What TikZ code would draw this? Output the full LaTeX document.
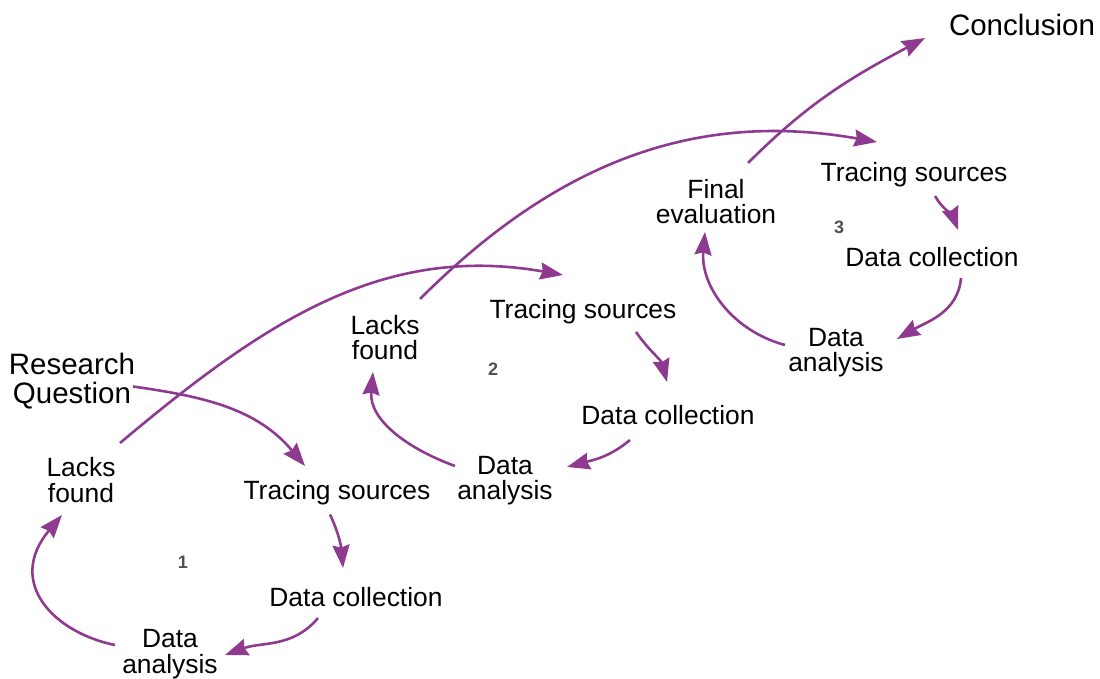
\documentclass[tikz,border=0pt]{standalone}
\usepackage{fontspec}
\setmainfont{Liberation Sans}
\usepackage{xcolor}
\usepackage{tikz}
\usetikzlibrary{arrows.meta}
\definecolor{cyclepurple}{RGB}{142, 58, 145}
\definecolor{numgray}{RGB}{80, 80, 80}

\begin{document}
\begin{tikzpicture}[x=1pt, y=1pt,
  lbl/.style={align=center, inner sep=1pt, font=\fontsize{26.4}{25.5}\selectfont},
  biglbl/.style={align=center, inner sep=1pt, font=\fontsize{29.5}{29}\selectfont},
  num/.style={inner sep=1pt, text=numgray, font=\fontsize{18}{18}\selectfont\bfseries},
  arr/.style={cyclepurple, line width=2.6pt, -{Stealth[length=23pt, width=17pt, inset=2.5pt]}}]
\useasboundingbox (0,0) rectangle (1100,678);

% start and end
\node[biglbl] (rq) at (72,296.5) {Research\\Question};
\node[biglbl] (concl) at (1022,653) {Conclusion};

% cycle 1
\node[lbl] (lf1) at (81,198) {Lacks\\found};
\node[lbl] (ts1) at (337,185) {Tracing sources};
\node[num] (n1) at (183,116) {1};
\node[lbl] (dc1) at (356,80.5) {Data collection};
\node[lbl] (da1) at (170,24) {Data\\analysis};

% cycle 2
\node[lbl] (lf2) at (385,340.5) {Lacks\\found};
\node[lbl] (ts2) at (583,366.5) {Tracing sources};
\node[num] (n2) at (493,309) {2};
\node[lbl] (dc2) at (668,262.5) {Data collection};
\node[lbl] (da2) at (505,197.5) {Data\\analysis};

% cycle 3
\node[lbl] (fe) at (716,476.5) {Final\\evaluation};
\node[lbl] (ts3) at (914,503.5) {Tracing sources};
\node[num] (n3) at (839,451) {3};
\node[lbl] (dc3) at (932,420.5) {Data collection};
\node[lbl] (da3) at (836,325.5) {Data\\analysis};

% arrows of cycle 1
\draw[arr] ([shift={(61,-5)}]rq.center) to[out=-8, in=130] ([shift={(-32,27)}]ts1.center);
\draw[arr] ([shift={(-7,-21.5)}]ts1.center) to[out=-65, in=95] ([shift={(-13,29.5)}]dc1.center);
\draw[arr] ([shift={(-38,-20.5)}]dc1.center) to[out=-130, in=20] ([shift={(55,-1)}]da1.center);
\draw[arr] ([shift={(-55,9)}]da1.center) .. controls +(-60,12) and +(-57,-68) .. ([shift={(-19,-35)}]lf1.center);

% arrows of cycle 2
\draw[arr] ([shift={(39,37)}]lf1.center) to[out=40, in=170] ([shift={(-20,36.5)}]ts2.center);
\draw[arr] ([shift={(53,-20.5)}]ts2.center) to[out=-55, in=105] ([shift={(-1,33.5)}]dc2.center);
\draw[arr] ([shift={(-38,-24.5)}]dc2.center) to[out=-140, in=15] ([shift={(62,13.5)}]da2.center);
\draw[arr] ([shift={(-50,14.5)}]da2.center) to[out=160, in=-95] ([shift={(-12,-34.5)}]lf2.center);

% arrows of cycle 3
\draw[arr] ([shift={(35,38.5)}]lf2.center) to[out=45, in=170] ([shift={(-37,32.5)}]ts3.center);
\draw[arr] ([shift={(21,-21.5)}]ts3.center) to[out=-60, in=110] ([shift={(26,27.5)}]dc3.center);
\draw[arr] ([shift={(29,-20.5)}]dc3.center) to[out=-95, in=30] ([shift={(61,13.5)}]da3.center);
\draw[arr] ([shift={(-51,7.5)}]da3.center) to[out=165, in=-95] ([shift={(-11,-30.5)}]fe.center);
\draw[arr] ([shift={(32,38.5)}]fe.center) to[out=45, in=-152] ([shift={(-97,-13)}]concl.center);
\end{tikzpicture}
\end{document}
